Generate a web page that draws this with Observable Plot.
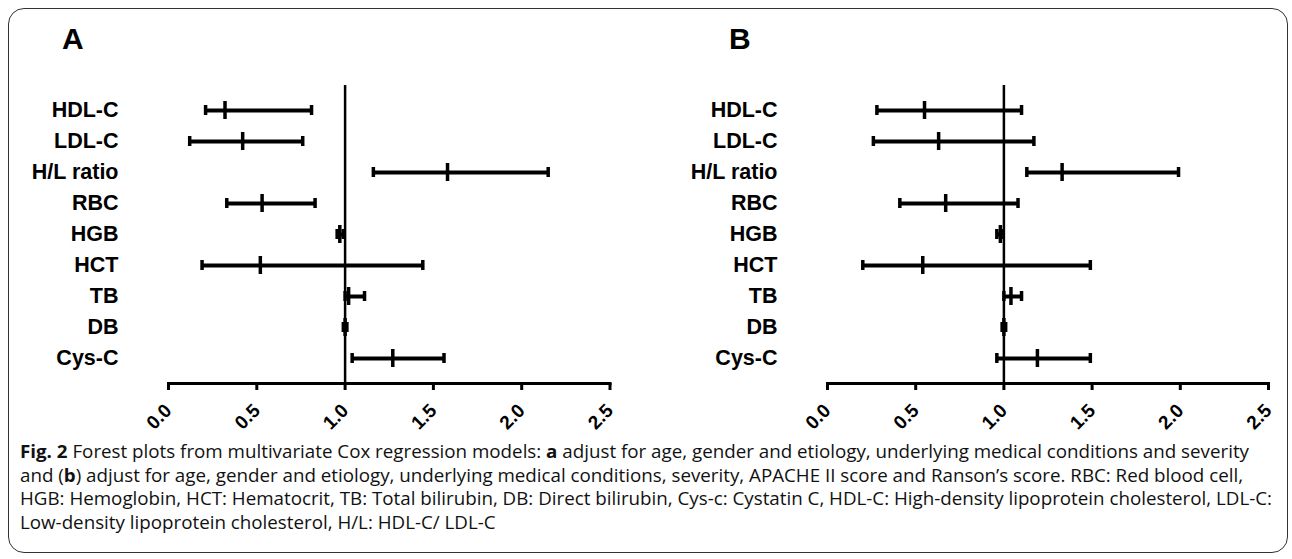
<!DOCTYPE html>
<html>
<head>
<meta charset="utf-8">
<script src="https://cdn.jsdelivr.net/npm/d3@7"></script>
<script src="https://cdn.jsdelivr.net/npm/@observablehq/plot@0.6"></script>
<style>
  html, body { margin: 0; padding: 0; background: #fff; width: 1292px; height: 559px; overflow: hidden; }
  #border { position: absolute; left: 8px; top: 8px; width: 1278px; height: 543px; border: 1.5px solid #333; border-radius: 16px; }
  .letter { position: absolute; font: bold 30px "Liberation Sans", Arial, sans-serif; line-height: 1; color: #000; }
  .panel { position: absolute; top: 0; }
  .panel svg text { font-weight: bold; fill: #000; }
  #cap { position: absolute; left: 20px; top: 440px; font-family: "Open Sans", "Noto Sans", sans-serif; font-size: 17.5px; line-height: 23.5px; color: #111; transform-origin: 0 0; white-space: nowrap; }
  #cap .l { display: block; width: max-content; }
</style>
</head>
<body>
<div id="border"></div>
<div class="letter" style="left:62px;top:24px">A</div>
<div class="letter" style="left:729px;top:24px">B</div>
<div id="pA" class="panel" style="left:0px"></div>
<div id="pB" class="panel" style="left:646px"></div>
<div id="cap">
  <span class="l"><b>Fig. 2</b> Forest plots from multivariate Cox regression models: <b>a</b> adjust for age, gender and etiology, underlying medical conditions and severity</span>
  <span class="l">and (<b>b</b>) adjust for age, gender and etiology, underlying medical conditions, severity, APACHE II score and Ranson’s score. RBC: Red blood cell,</span>
  <span class="l">HGB: Hemoglobin, HCT: Hematocrit, TB: Total bilirubin, DB: Direct bilirubin, Cys-c: Cystatin C, HDL-C: High-density lipoprotein cholesterol, LDL-C:</span>
  <span class="l">Low-density lipoprotein cholesterol, H/L: HDL-C/ LDL-C</span>
</div>
<script>
const labels = ["HDL-C", "LDL-C", "H/L ratio", "RBC", "HGB", "HCT", "TB", "DB", "Cys-C"];
const estA  = [0.32, 0.42, 1.58, 0.53, 0.97, 0.52, 1.02, 1.00, 1.27];
const lowA  = [0.21, 0.12, 1.16, 0.33, 0.955, 0.19, 1.00, 0.99, 1.04];
const highA = [0.81, 0.76, 2.15, 0.83, 0.99, 1.44, 1.11, 1.01, 1.56];
const estB  = [0.55, 0.63, 1.33, 0.67, 0.98, 0.54, 1.04, 1.00, 1.19];
const lowB  = [0.28, 0.26, 1.13, 0.41, 0.96, 0.20, 1.00, 0.99, 0.96];
const highB = [1.10, 1.17, 1.99, 1.08, 0.99, 1.49, 1.10, 1.01, 1.49];
const xTicks = [0, 0.5, 1, 1.5, 2, 2.5];
const refValue = [1];

function forest(est, low, high, ml, mr) {
  const data = labels.map((k, i) => ({k, est: est[i], low: low[i], high: high[i]}));
  return Plot.plot({
    width: 646, height: 440,
    marginLeft: ml, marginRight: mr, marginTop: 85, marginBottom: 57,
    x: {domain: [0, 2.5]},
    y: {domain: labels, padding: 0.42},
    style: {fontFamily: "'Liberation Sans', Arial, sans-serif", color: "#000", background: "transparent", overflow: "visible"},
    marks: [
      Plot.frame({anchor: "bottom", stroke: "#000", strokeWidth: 3}),
      Plot.ruleX(refValue, {stroke: "#000", strokeWidth: 2.5}),
      Plot.ruleY(data, {y: "k", x1: "low", x2: "high", stroke: "#000", strokeWidth: 4}),
      Plot.tickX(data, {x: "low", y: "k", stroke: "#000", strokeWidth: 3.5, insetTop: 4, insetBottom: 4}),
      Plot.tickX(data, {x: "high", y: "k", stroke: "#000", strokeWidth: 3.5, insetTop: 4, insetBottom: 4}),
      Plot.tickX(data, {x: "est", y: "k", stroke: "#000", strokeWidth: 3.5}),
      Plot.axisX({ticks: xTicks, tickFormat: d3.format(".1f"), tickSize: 7, tickPadding: 17, tickRotate: -45, fontSize: 19, stroke: "#000", strokeWidth: 3, label: null}),
      Plot.axisY({tickSize: 0, tickPadding: 50, fontSize: 21.5, label: null})
    ]
  });
}

document.getElementById("pA").appendChild(forest(estA, lowA, highA, 168, 36.5));
document.getElementById("pB").appendChild(forest(estB, lowB, highB, 181, 24));

// fit caption width to the reference text block (line 1 ends ~1270, line 3 ~1273)
const cap = document.getElementById("cap");
const lines = cap.querySelectorAll(".l");
const w1 = lines[0].getBoundingClientRect().width;
const w3 = lines[2].getBoundingClientRect().width;
cap.style.transform = `scaleX(${Math.min(1250 / w1, 1252 / w3)})`;
</script>
</body>
</html>
